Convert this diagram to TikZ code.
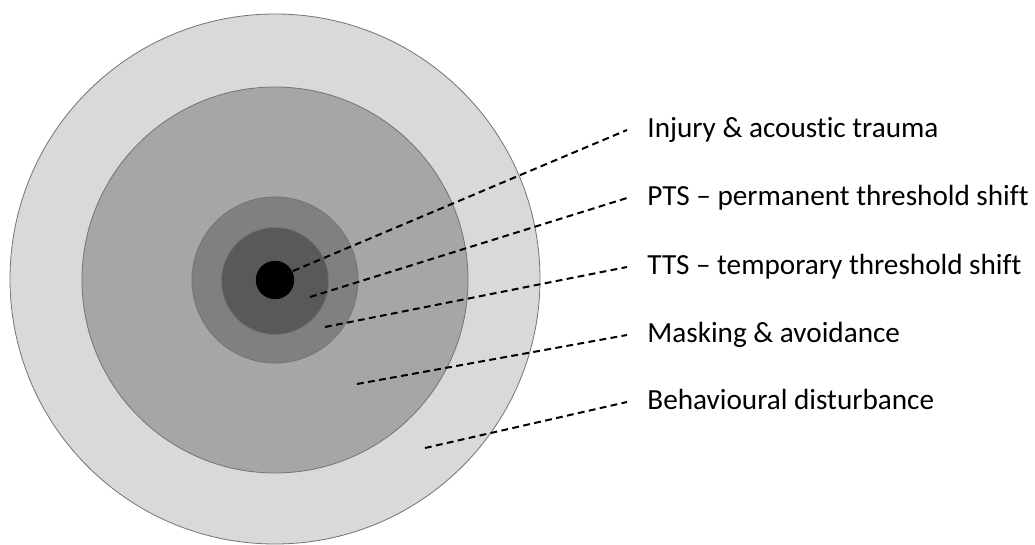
\documentclass[tikz,border=0pt]{standalone}
\usepackage{fontspec}
\setmainfont{Carlito}[Ligatures={NoCommon}]
\begin{document}
\begin{tikzpicture}[x=0.5pt,y=-0.5pt,
  zone/.style={draw=black!55,line width=0.4pt},
  lbl/.style={anchor=base west,inner xsep=10pt,inner ysep=0pt,text height=8pt,text depth=0pt,font=\fontsize{14.6}{17}\selectfont},
  leader/.style={draw,line width=1pt,dash pattern=on 3.4pt off 2.2pt}]
\useasboundingbox (0,0) rectangle (1035,545);

\path[zone,fill=black!15] (275,279) circle[radius=132.5pt];
\path[zone,fill=black!35] (275,280) circle[radius=96.5pt];
\path[zone,fill=black!50] (275,280) circle[radius=41.5pt];
\path[zone,fill=black!65] (275,281) circle[radius=26.8pt];
\path[fill=black] (275,280) circle[radius=9.6pt];

\coordinate (p1) at (293,271);
\coordinate (p2) at (310,297);
\coordinate (p3) at (325,327);
\coordinate (p4) at (357,384);
\coordinate (p5) at (425,448);

\node[lbl] (inj) at (627,138) {Injury \& acoustic trauma};
\node[lbl] (pts) at (627,206) {PTS – permanent threshold shift};
\node[lbl] (tts) at (627,275) {TTS – temporary threshold shift};
\node[lbl] (msk) at (627,343) {Masking \& avoidance};
\node[lbl] (beh) at (627,410) {Behavioural disturbance};

\path[leader] (p1) -- (inj.west);
\path[leader] (p2) -- (pts.west);
\path[leader] (p3) -- (tts.west);
\path[leader] (p4) -- (msk.west);
\path[leader] (p5) -- (beh.west);
\end{tikzpicture}
\end{document}
